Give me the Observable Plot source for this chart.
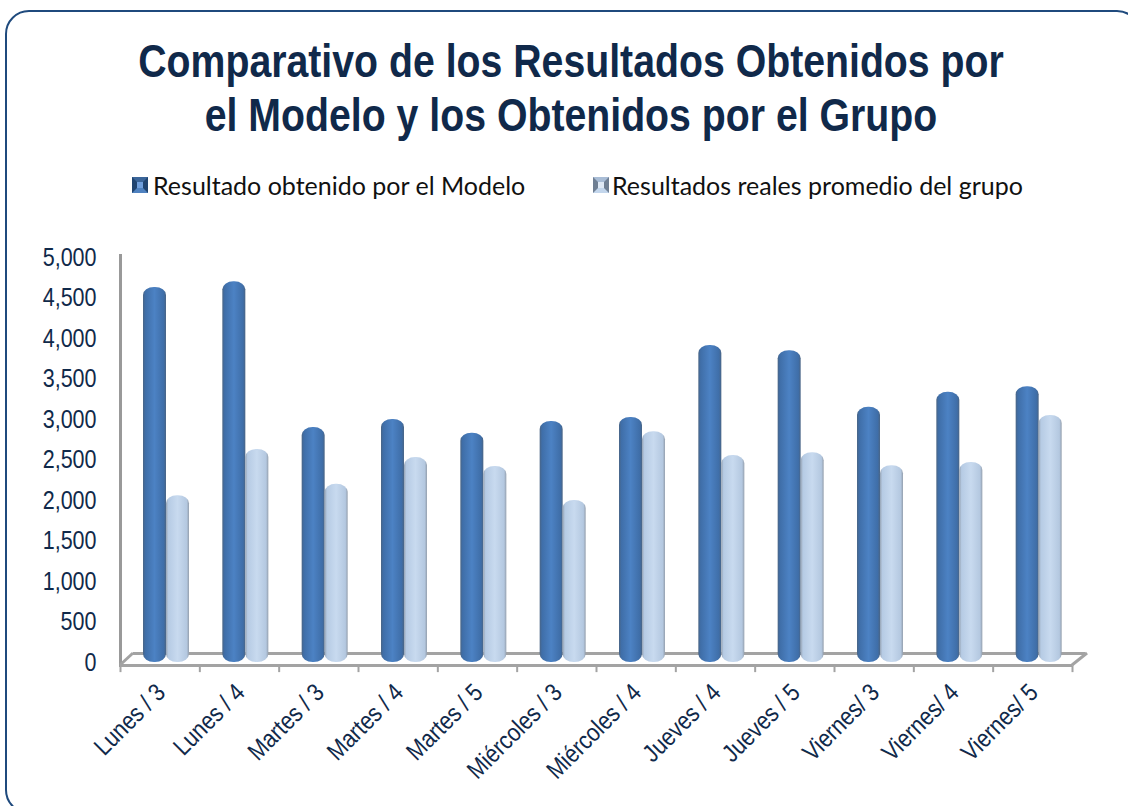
<!DOCTYPE html>
<html><head><meta charset="utf-8">
<script src="https://cdn.jsdelivr.net/npm/d3@7"></script>
<script src="https://cdn.jsdelivr.net/npm/@observablehq/plot@0.6"></script>
<style>
html,body{margin:0;padding:0;background:#fff;overflow:hidden}
#page{position:relative;width:1128px;height:806px;overflow:hidden}
#frame{position:absolute;left:5px;top:10px;width:1132px;height:800px;border:2px solid #1f4a7d;border-radius:24px;pointer-events:none}
#head{height:225px;position:relative}
#title{position:absolute;left:0;width:1128px;top:34px;text-align:center;font:bold 46px/54px "Liberation Sans",sans-serif;color:#10294a;transform:translateX(7px) scaleX(.853)}
.leg{position:absolute;top:169px;font:25px/32px Lato,sans-serif;color:#111;white-space:nowrap}
.sw{position:absolute;top:177px;width:6px;height:6px;border-style:solid;border-width:5px}
#chart{position:relative;display:block}
svg{display:block}
</style></head><body>
<div id="page">
<div id="frame"></div>
<div id="head">
<div id="title">Comparativo de los Resultados Obtenidos por<br>el Modelo y los Obtenidos por el Grupo</div>
<div class="sw" style="left:132px;background:#6f9fdc;border-color:#3a6599 #1f4470 #4f82c0 #1f4470"></div>
<div class="leg" id="l1" style="left:153px">Resultado obtenido por el Modelo</div>
<div class="sw" style="left:593px;background:#dfe9f5;border-color:#a9bdd6 #6f7f93 #c3d6ec #6f7f93"></div>
<div class="leg" id="l2" style="left:612px">Resultados reales promedio del grupo</div>
</div>
<div id="chart"></div>
</div>
<script>
const categories = ["Lunes / 3","Lunes / 4","Martes / 3","Martes / 4","Martes / 5","Miércoles / 3","Miércoles / 4","Jueves / 4","Jueves / 5","Viernes/ 3","Viernes/ 4","Viernes/ 5"];
const modelo = [4630,4700,2900,3000,2830,2975,3025,3915,3850,3150,3335,3405];
const reales = [2060,2630,2200,2530,2420,2000,2850,2555,2590,2430,2470,3050];
const yTicks = [0,500,1000,1500,2000,2500,3000,3500,4000,4500,5000];

const defs = () => {
  const s = d3.create("svg:g");
  const d = s.append("defs");
  const grad = (id, stops) => {
    const g = d.append("linearGradient").attr("id", id).attr("x1",0).attr("x2",1).attr("y1",0).attr("y2",0);
    stops.forEach(([o,c]) => g.append("stop").attr("offset",o).attr("stop-color",c));
  };
  grad("gModelo", [[0,"#4a6585"],[0.1,"#3f6ea8"],[0.5,"#4c82c4"],[0.9,"#3f6ea8"],[1,"#4a6585"]]);
  grad("gReales", [[0,"#97a4b4"],[0.1,"#b6cbe4"],[0.5,"#c8daef"],[0.9,"#b4c8e0"],[1,"#949fad"]]);
  return s.node();
};
const sideLines = (index, scales, values, dims) => {
  const g = d3.create("svg:g").attr("stroke","#a3a3a3").attr("stroke-width",3).attr("fill","none");
  const L = dims.marginLeft, R = dims.width - dims.marginRight, B = dims.height - dims.marginBottom;
  g.append("path").attr("d",`M${L},${B+3}L${L+13},${B-9}`);
  g.append("path").attr("d",`M${R},${B+3}L${R+15},${B-9}`);
  return g.node();
};
const step = (1072-120)/12;
const font = '"Liberation Sans",sans-serif';
const plot = Plot.plot({
  width: 1128, height: 581,
  marginLeft: 120, marginRight: 56, marginTop: 32, marginBottom: 144,
  style: {background:"transparent"},
  x: {domain: categories, padding: 0, round: false, label: null, axis: null},
  y: {domain: [0,5000], label: null, axis: null},
  marks: [
    defs,
    Plot.ruleY([0], {dy:-9, dx:13, stroke:"#a3a3a3", strokeWidth:3}),
    Plot.frame({anchor:"left", stroke:"#999", strokeWidth:3, insetBottom:-3, insetTop:-2}),
    Plot.ruleY([0], {dy:3, stroke:"#a3a3a3", strokeWidth:3}),
    sideLines,
    Plot.ruleX(categories, {x:d=>d, dx:-step/2, y1:-40, y2:-125, stroke:"#a3a3a3", strokeWidth:2}),
    Plot.ruleX(categories.slice(-1), {x:d=>d, dx:step/2, y1:-40, y2:-125, stroke:"#a3a3a3", strokeWidth:2}),
    Plot.barY(modelo, {x:(d,i)=>categories[i], y:d=>d, insetLeft:23, insetRight:step-46, fill:"url(#gModelo)", rx:11, ry:8}),
    Plot.barY(reales, {x:(d,i)=>categories[i], y:d=>d, insetLeft:46, insetRight:step-69, fill:"url(#gReales)", rx:11, ry:8}),
    Plot.axisY({ticks:yTicks, tickFormat:d3.format(","), tickSize:0, tickPadding:24, label:null, fontSize:25, fontFamily:font, color:"#10294a"}),
    Plot.axisX({tickRotate:-45, tickSize:0, tickPadding:26, dx:1, label:null, fontSize:25, fontFamily:font, color:"#10294a", textAnchor:"end"})
  ]
});
document.getElementById("chart").appendChild(plot);
// The reference's axis type is condensed: squeeze each label horizontally, keeping its height.
plot.querySelectorAll("text").forEach(t => {
  t.setAttribute("textLength", t.getComputedTextLength() * 0.86);
  t.setAttribute("lengthAdjust", "spacingAndGlyphs");
});
</script>
</body></html>
